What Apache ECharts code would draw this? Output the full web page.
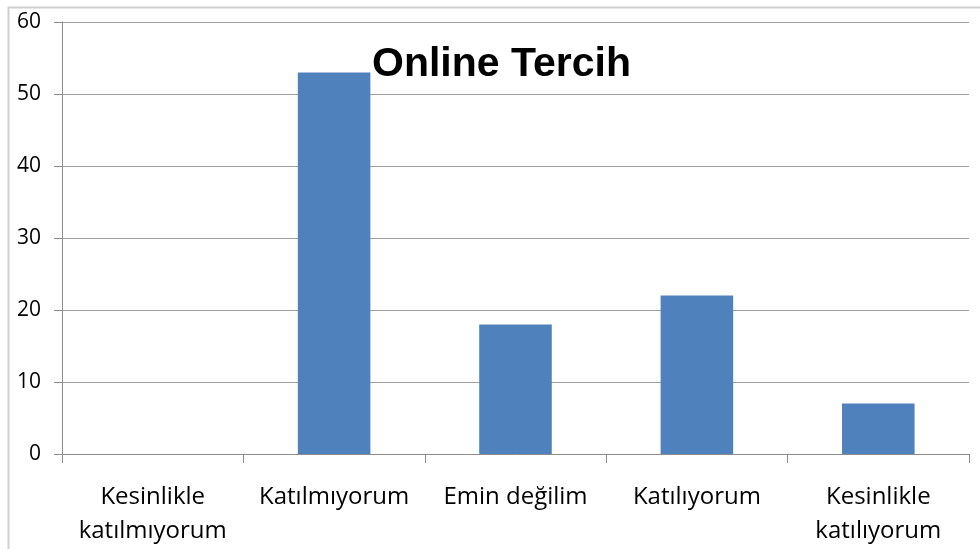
<!DOCTYPE html>
<html><head><meta charset="utf-8">
<script src="https://cdn.jsdelivr.net/npm/echarts@6/dist/echarts.min.js"></script>
<style>html,body{margin:0;padding:0;background:#fff}#c{width:980px;height:549px}</style>
</head><body><div id="c"></div>
<script>
const categories = ["Kesinlikle\nkatılmıyorum", "Katılmıyorum", "Emin değilim", "Katılıyorum", "Kesinlikle\nkatılıyorum"];
const values = [0, 53, 18, 22, 7];
const yTicks = { min: 0, max: 60, interval: 10 };
const titleText = "Online Tercih";

const chart = echarts.init(document.getElementById('c'), null, { renderer: 'canvas' });
chart.setOption({
  animation: false,
  backgroundColor: '#fff',
  graphic: [{
    type: 'rect', left: 6, top: 5, z: 100, silent: true,
    shape: { width: 1000, height: 600 },
    style: { fill: 'none', stroke: '#cfcfcf', lineWidth: 2 }
  }],
  title: {
    text: titleText, left: 367, top: 39, z: 10,
    textStyle: { fontFamily: 'Liberation Sans', fontWeight: 'bold', fontSize: 41, color: '#000' }
  },
  grid: { left: 62, right: 11, top: 22, bottom: 95, containLabel: false },
  xAxis: {
    type: 'category', data: categories, boundaryGap: true,
    axisLine: { lineStyle: { color: '#8c8c8c', width: 1 } },
    axisTick: { show: true, length: 9, alignWithLabel: false, lineStyle: { color: '#8c8c8c' } },
    axisLabel: { color: '#000', fontFamily: 'Open Sans', fontSize: 24, lineHeight: 34, margin: 26, interval: 0 }
  },
  yAxis: {
    type: 'value', min: yTicks.min, max: yTicks.max, interval: yTicks.interval,
    axisLine: { show: true, lineStyle: { color: '#8c8c8c' } },
    axisTick: { show: true, length: 8, lineStyle: { color: '#8c8c8c' } },
    axisLabel: { color: '#000', fontFamily: 'Open Sans', fontSize: 21, margin: 21 },
    splitLine: { show: true, lineStyle: { color: '#a0a0a0', width: 1 } }
  },
  series: [{
    type: 'bar', data: values, barWidth: '40%', z: 2,
    itemStyle: { color: '#4F81BD' }
  }]
});
</script></body></html>
